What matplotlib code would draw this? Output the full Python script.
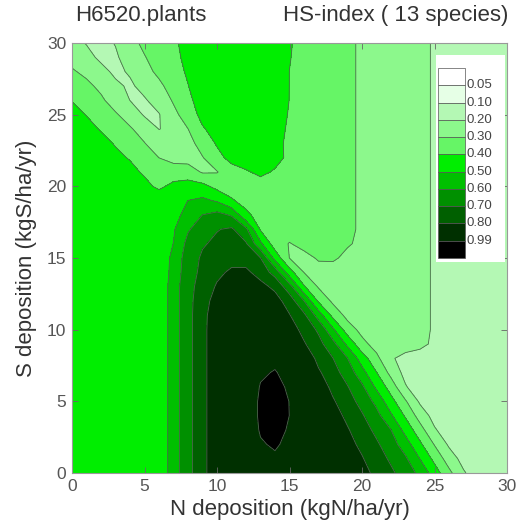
import numpy as np
import matplotlib
matplotlib.use("Agg")
import matplotlib.pyplot as plt
from matplotlib.patches import Rectangle

plt.rcParams['font.family'] = ['Liberation Sans', 'DejaVu Sans']

# grid (kg/ha/yr)
n_dep = np.arange(0, 31, 1)
s_dep = np.arange(0, 31, 1)

# HS-index; one row per S value (0..30), columns N = 0..30
hs_s00 = [0.45, 0.45, 0.45, 0.45, 0.45, 0.45, 0.42, 0.553, 0.668, 0.77, 0.87, 0.90, 0.93, 0.968, 0.974, 0.962, 0.94, 0.92, 0.90, 0.863, 0.826, 0.781, 0.719, 0.653, 0.575, 0.45, 0.325, 0.211, 0.146, 0.14, 0.14]
hs_s01 = [0.45, 0.45, 0.45, 0.45, 0.45, 0.45, 0.42, 0.553, 0.668, 0.77, 0.87, 0.90, 0.954, 0.979, 0.985, 0.973, 0.944, 0.92, 0.882, 0.845, 0.807, 0.748, 0.683, 0.614, 0.4975, 0.3725, 0.251, 0.166, 0.14, 0.14, 0.14]
hs_s02 = [0.45, 0.45, 0.45, 0.45, 0.45, 0.45, 0.42, 0.553, 0.668, 0.77, 0.87, 0.90, 0.963, 0.987, 0.994, 0.982, 0.952, 0.92, 0.875, 0.830, 0.779, 0.715, 0.644, 0.547, 0.419, 0.294, 0.185, 0.14, 0.14, 0.14, 0.14]
hs_s03 = [0.45, 0.45, 0.45, 0.45, 0.45, 0.45, 0.42, 0.553, 0.668, 0.77, 0.87, 0.90, 0.968, 0.993, 0.999, 0.987, 0.957, 0.92, 0.864, 0.809, 0.745, 0.676, 0.601, 0.466, 0.341, 0.211, 0.145, 0.14, 0.14, 0.14, 0.14]
hs_s04 = [0.45, 0.45, 0.45, 0.45, 0.45, 0.45, 0.42, 0.553, 0.668, 0.77, 0.87, 0.90, 0.971, 0.995, 1.002, 0.9898, 0.96, 0.91, 0.843, 0.777, 0.71, 0.632, 0.514, 0.3875, 0.257, 0.164, 0.14, 0.14, 0.14, 0.14, 0.14]
hs_s05 = [0.45, 0.45, 0.45, 0.45, 0.45, 0.45, 0.42, 0.553, 0.668, 0.77, 0.87, 0.90, 0.970, 0.995, 1.001, 0.9895, 0.96, 0.89, 0.811, 0.741, 0.667, 0.571, 0.435, 0.31, 0.184, 0.14, 0.14, 0.14, 0.14, 0.14, 0.14]
hs_s06 = [0.45, 0.45, 0.45, 0.45, 0.45, 0.45, 0.42, 0.553, 0.668, 0.77, 0.87, 0.90, 0.967, 0.992, 0.998, 0.986, 0.956, 0.860, 0.774, 0.706, 0.618, 0.481, 0.356, 0.208, 0.143, 0.14, 0.14, 0.14, 0.14, 0.14, 0.14]
hs_s07 = [0.45, 0.45, 0.45, 0.45, 0.45, 0.45, 0.42, 0.553, 0.668, 0.77, 0.87, 0.90, 0.961, 0.986, 0.992, 0.980, 0.950, 0.815, 0.738, 0.657, 0.537, 0.404, 0.269, 0.169, 0.15, 0.14, 0.14, 0.14, 0.14, 0.14, 0.14]
hs_s08 = [0.45, 0.45, 0.45, 0.45, 0.45, 0.45, 0.42, 0.553, 0.668, 0.77, 0.87, 0.90, 0.952, 0.977, 0.983, 0.972, 0.88, 0.771, 0.701, 0.601, 0.45, 0.325, 0.211, 0.17, 0.165, 0.16, 0.15, 0.14, 0.14, 0.14, 0.14]
hs_s09 = [0.45, 0.45, 0.45, 0.45, 0.45, 0.45, 0.42, 0.553, 0.668, 0.77, 0.87, 0.90, 0.94, 0.965, 0.972, 0.93, 0.81, 0.733, 0.631, 0.477, 0.33, 0.26, 0.25, 0.245, 0.22, 0.185, 0.165, 0.15, 0.14, 0.14, 0.14]
hs_s10 = [0.45, 0.45, 0.45, 0.45, 0.45, 0.45, 0.42, 0.553, 0.668, 0.77, 0.87, 0.90, 0.93, 0.94, 0.92, 0.85, 0.769, 0.683, 0.517, 0.35, 0.27, 0.255, 0.25, 0.245, 0.225, 0.19, 0.165, 0.15, 0.14, 0.14, 0.14]
hs_s11 = [0.45, 0.45, 0.45, 0.45, 0.45, 0.45, 0.42, 0.553, 0.668, 0.77, 0.86, 0.89, 0.91, 0.91, 0.88, 0.805, 0.721, 0.555, 0.371, 0.27, 0.26, 0.255, 0.25, 0.245, 0.225, 0.19, 0.165, 0.15, 0.14, 0.14, 0.14]
hs_s12 = [0.45, 0.45, 0.45, 0.45, 0.45, 0.45, 0.42, 0.553, 0.668, 0.76, 0.84, 0.87, 0.88, 0.87, 0.84, 0.755, 0.601, 0.386, 0.28, 0.265, 0.26, 0.255, 0.25, 0.245, 0.225, 0.19, 0.165, 0.15, 0.14, 0.14, 0.14]
hs_s13 = [0.45, 0.45, 0.45, 0.45, 0.45, 0.45, 0.42, 0.553, 0.664, 0.745, 0.81, 0.84, 0.85, 0.83, 0.778, 0.64, 0.411, 0.29, 0.27, 0.265, 0.26, 0.255, 0.25, 0.245, 0.225, 0.19, 0.165, 0.15, 0.14, 0.14, 0.14]
hs_s14 = [0.45, 0.45, 0.45, 0.45, 0.45, 0.45, 0.415, 0.54, 0.655, 0.725, 0.78, 0.815, 0.82, 0.762, 0.66, 0.444, 0.298, 0.265, 0.255, 0.255, 0.255, 0.255, 0.25, 0.245, 0.225, 0.19, 0.165, 0.15, 0.14, 0.14, 0.14]
hs_s15 = [0.45, 0.45, 0.45, 0.45, 0.45, 0.45, 0.41, 0.533, 0.647, 0.715, 0.75, 0.77, 0.76, 0.701, 0.467, 0.298, 0.27, 0.31, 0.315, 0.275, 0.265, 0.26, 0.25, 0.245, 0.225, 0.19, 0.165, 0.15, 0.14, 0.14, 0.14]
hs_s16 = [0.45, 0.45, 0.45, 0.45, 0.45, 0.45, 0.43, 0.502, 0.63, 0.69, 0.72, 0.73, 0.71, 0.52, 0.345, 0.295, 0.33, 0.34, 0.335, 0.31, 0.28, 0.265, 0.255, 0.245, 0.225, 0.19, 0.165, 0.15, 0.14, 0.14, 0.14]
hs_s17 = [0.45, 0.45, 0.45, 0.45, 0.45, 0.45, 0.44, 0.49, 0.59, 0.65, 0.695, 0.715, 0.62, 0.39, 0.355, 0.345, 0.35, 0.35, 0.34, 0.32, 0.285, 0.265, 0.255, 0.245, 0.225, 0.19, 0.165, 0.15, 0.14, 0.14, 0.14]
hs_s18 = [0.45, 0.45, 0.45, 0.45, 0.45, 0.45, 0.45, 0.47, 0.53, 0.601, 0.63, 0.59, 0.42, 0.365, 0.35, 0.35, 0.35, 0.35, 0.34, 0.32, 0.285, 0.265, 0.255, 0.245, 0.225, 0.19, 0.165, 0.15, 0.14, 0.14, 0.14]
hs_s19 = [0.45, 0.45, 0.45, 0.45, 0.45, 0.45, 0.45, 0.46, 0.501, 0.52, 0.49, 0.41, 0.37, 0.355, 0.35, 0.35, 0.35, 0.35, 0.34, 0.32, 0.285, 0.265, 0.255, 0.245, 0.225, 0.19, 0.165, 0.15, 0.14, 0.14, 0.14]
hs_s20 = [0.45, 0.45, 0.45, 0.45, 0.45, 0.42, 0.385, 0.42, 0.44, 0.43, 0.37, 0.36, 0.36, 0.36, 0.36, 0.355, 0.35, 0.35, 0.34, 0.32, 0.285, 0.265, 0.255, 0.245, 0.225, 0.19, 0.165, 0.15, 0.14, 0.14, 0.14]
hs_s21 = [0.45, 0.45, 0.45, 0.44, 0.42, 0.39, 0.37, 0.36, 0.35, 0.29, 0.295, 0.36, 0.39, 0.42, 0.39, 0.36, 0.355, 0.35, 0.34, 0.32, 0.285, 0.265, 0.255, 0.245, 0.225, 0.19, 0.165, 0.15, 0.14, 0.14, 0.14]
hs_s22 = [0.45, 0.44, 0.43, 0.415, 0.395, 0.35, 0.299, 0.26, 0.26, 0.295, 0.37, 0.43, 0.45, 0.45, 0.43, 0.38, 0.355, 0.35, 0.34, 0.32, 0.285, 0.265, 0.255, 0.245, 0.225, 0.19, 0.165, 0.15, 0.14, 0.14, 0.14]
hs_s23 = [0.45, 0.43, 0.42, 0.395, 0.345, 0.303, 0.25, 0.235, 0.265, 0.34, 0.41, 0.45, 0.46, 0.46, 0.44, 0.37, 0.355, 0.35, 0.34, 0.32, 0.285, 0.265, 0.255, 0.245, 0.225, 0.19, 0.165, 0.15, 0.14, 0.14, 0.14]
hs_s24 = [0.44, 0.42, 0.395, 0.35, 0.31, 0.26, 0.198, 0.22, 0.299, 0.39, 0.44, 0.46, 0.47, 0.47, 0.45, 0.38, 0.355, 0.35, 0.34, 0.32, 0.285, 0.265, 0.255, 0.245, 0.225, 0.19, 0.165, 0.15, 0.14, 0.14, 0.14]
hs_s25 = [0.42, 0.398, 0.35, 0.31, 0.26, 0.19, 0.195, 0.275, 0.345, 0.43, 0.46, 0.47, 0.48, 0.475, 0.46, 0.39, 0.355, 0.35, 0.34, 0.32, 0.285, 0.265, 0.255, 0.245, 0.225, 0.19, 0.165, 0.15, 0.14, 0.14, 0.14]
hs_s26 = [0.398, 0.35, 0.315, 0.26, 0.199, 0.19, 0.24, 0.31, 0.38, 0.44, 0.47, 0.48, 0.485, 0.48, 0.465, 0.398, 0.36, 0.35, 0.34, 0.32, 0.285, 0.265, 0.255, 0.245, 0.225, 0.19, 0.165, 0.15, 0.14, 0.14, 0.14]
hs_s27 = [0.36, 0.32, 0.28, 0.22, 0.185, 0.23, 0.28, 0.34, 0.398, 0.45, 0.475, 0.485, 0.49, 0.485, 0.47, 0.399, 0.36, 0.35, 0.34, 0.32, 0.285, 0.265, 0.255, 0.245, 0.225, 0.19, 0.165, 0.15, 0.14, 0.14, 0.14]
hs_s28 = [0.31, 0.28, 0.23, 0.18, 0.21, 0.27, 0.32, 0.37, 0.41, 0.46, 0.48, 0.49, 0.49, 0.49, 0.47, 0.399, 0.36, 0.35, 0.34, 0.32, 0.285, 0.265, 0.255, 0.245, 0.225, 0.19, 0.165, 0.15, 0.14, 0.14, 0.14]
hs_s29 = [0.27, 0.23, 0.18, 0.185, 0.25, 0.295, 0.34, 0.38, 0.42, 0.465, 0.485, 0.49, 0.495, 0.49, 0.475, 0.405, 0.36, 0.35, 0.34, 0.32, 0.285, 0.265, 0.255, 0.245, 0.225, 0.19, 0.165, 0.15, 0.14, 0.14, 0.14]
hs_s30 = [0.23, 0.195, 0.17, 0.205, 0.27, 0.32, 0.355, 0.385, 0.43, 0.47, 0.49, 0.495, 0.497, 0.495, 0.48, 0.41, 0.36, 0.35, 0.34, 0.32, 0.285, 0.265, 0.255, 0.245, 0.225, 0.19, 0.165, 0.15, 0.14, 0.14, 0.14]

hs_index = np.array([hs_s00, hs_s01, hs_s02, hs_s03, hs_s04, hs_s05, hs_s06, hs_s07, hs_s08, hs_s09,
                     hs_s10, hs_s11, hs_s12, hs_s13, hs_s14, hs_s15, hs_s16, hs_s17, hs_s18, hs_s19,
                     hs_s20, hs_s21, hs_s22, hs_s23, hs_s24, hs_s25, hs_s26, hs_s27, hs_s28, hs_s29,
                     hs_s30])

levels = [0.0, 0.05, 0.10, 0.20, 0.30, 0.40, 0.50, 0.60, 0.70, 0.80, 0.99, 1.01]
level_labels = ['0.05', '0.10', '0.20', '0.30', '0.40', '0.50', '0.60', '0.70', '0.80', '0.99']
# colours per band: <0.05, 0.05-0.10, 0.10-0.20, 0.20-0.30, 0.30-0.40, 0.40-0.50, ...
colors = ['#ffffff', '#e6ffe6', '#b4f8b4', '#8cf88c', '#66f566', '#00ee00',
          '#00c000', '#009000', '#006000', '#003000', '#000000']

fig = plt.figure(figsize=(5.16, 5.22), dpi=100)
ax = fig.add_axes([72/516, 1 - 473/522, (507 - 72)/516, (473 - 43)/522])

ax.contourf(n_dep, s_dep, hs_index, levels=levels, colors=colors)
ax.contour(n_dep, s_dep, hs_index, levels=levels[1:-1], colors='#4d6b4d', linewidths=0.6)

ax.set_xlim(0, 30)
ax.set_ylim(0, 30)
ax.set_xticks([0, 5, 10, 15, 20, 25, 30])
ax.set_yticks([0, 5, 10, 15, 20, 25, 30])
ax.tick_params(direction='in', length=4, width=0.6, color='#666666', labelcolor='#555555',
               labelsize=12.5, top=True, right=True, pad=4)
for sp in ax.spines.values():
    sp.set_color('#999999')
    sp.set_linewidth(0.8)

# legend box (drawn in axes fraction coordinates)
tr = ax.transAxes
bx0, bx1 = (436 - 72)/435, (505 - 72)/435
by1, by0 = (473 - 55)/430, (473 - 262)/430
ax.add_patch(Rectangle((bx0, by0), bx1 - bx0, by1 - by0, transform=tr,
                       facecolor='white', edgecolor='none', zorder=5))
sw_x0, sw_x1 = (438 - 72)/435, (465 - 72)/435
sw_top, sw_bot = (473 - 68)/430, (473 - 258)/430
nsw = len(colors)
h = (sw_top - sw_bot)/nsw
for i, c in enumerate(colors):
    y = sw_top - (i + 1)*h
    ax.add_patch(Rectangle((sw_x0, y), sw_x1 - sw_x0, h, transform=tr,
                           facecolor=c, edgecolor='#555555', linewidth=0.5, zorder=6))
for i, lab in enumerate(level_labels):
    y = sw_top - (i + 1)*h
    ax.text(sw_x1 + 0.004, y, lab, transform=tr, ha='left', va='center',
            fontsize=9.5, color='#444444', zorder=7)

fig.text(75/516, 1 - 16/522, 'H6520.plants', ha='left', va='center', fontsize=16, color='#333333')
fig.text(508/516, 1 - 16/522, 'HS-index ( 13 species)', ha='right', va='center', fontsize=16, color='#333333')
ax.text(0.5, -(510 - 473)/430, 'N deposition (kgN/ha/yr)', transform=tr, ha='center', va='center',
        fontsize=16, color='#333333')
ax.text((27 - 72)/435, 0.5, 'S deposition (kgS/ha/yr)', transform=tr, ha='center', va='center',
        rotation=90, fontsize=16, color='#333333')

fig.savefig('out.png', dpi=100)
